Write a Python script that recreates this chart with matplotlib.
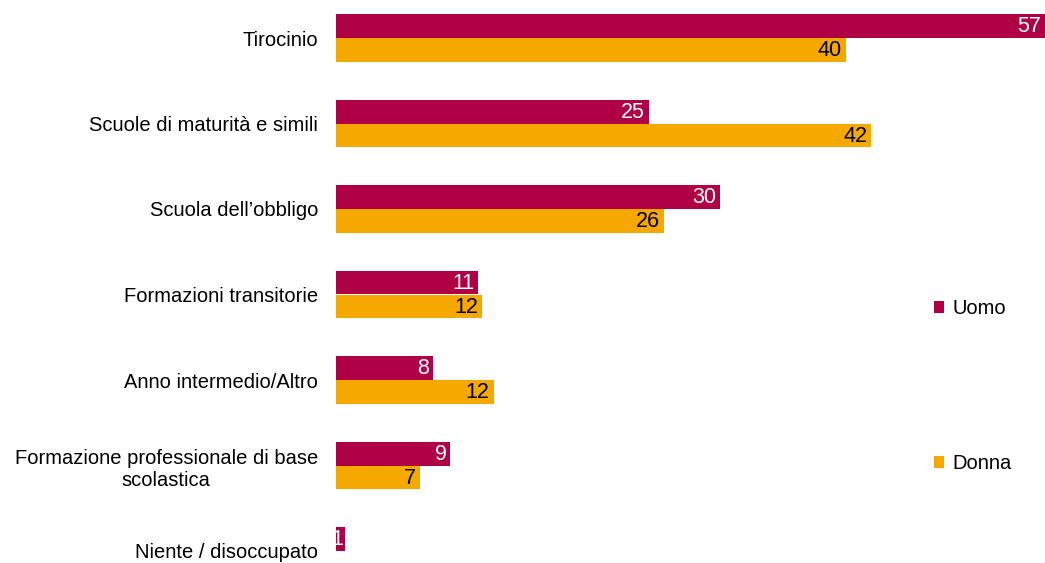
import numpy as np
import matplotlib.pyplot as plt

# Data
categories = ['Tirocinio', 'Scuole di maturità e simili', 'Scuola dell\u2019obbligo',
              'Formazioni transitorie', 'Anno intermedio/Altro',
              'Formazione professionale di base\nscolastica', 'Niente / disoccupato']
uomo = [57.3, 24.6, 30.2, 11.2, 7.6, 9.0, 0.7]
donna = [40.1, 42.1, 25.8, 11.5, 12.4, 6.6, 0.0]
series_names = ['Uomo', 'Donna']

col_uomo = '#AF0046'
col_donna = '#F5A800'

plt.rcParams['font.family'] = ['Liberation Sans', 'DejaVu Sans']
plt.rcParams['font.size'] = 14.5

fig = plt.figure(figsize=(10.45, 5.63), dpi=100)
ax = fig.add_axes([336 / 1045, 0, 1 - 336 / 1045, 1])

y = np.arange(len(categories))
h = 0.28
xmax = 55.8

b1 = ax.barh(y - h / 2, uomo, height=h, color=col_uomo, label=series_names[0])
b2 = ax.barh(y + h / 2, donna, height=h, color=col_donna, label=series_names[1])

# value labels, inside the bar end
for vals, ys, tc in [(uomo, y - h / 2, 'white'), (donna, y + h / 2, 'black')]:
    for v, yy in zip(vals, ys):
        if v <= 0:
            continue
        xe = max(min(v, xmax) - 0.3, 0.6)
        ax.text(xe, yy + 0.01, f'{v:.0f}', ha='right', va='center',
                color=tc, fontsize=15.5)

ax.set_xlim(0, xmax)
ax.set_ylim((563 - 38) / 85.5, -38 / 85.5)
ax.set_yticks(y)
ax.set_yticklabels(categories, multialignment='center')
ax.tick_params(axis='y', length=0, pad=13)
ax.set_xticks([])
for s in ax.spines.values():
    s.set_visible(False)

fig.legend(handles=[b1, b2], loc='upper left', bbox_to_anchor=(934 / 1045, 1 - 299 / 563),
           frameon=False, handlelength=0.5, handleheight=0.5, handletextpad=0.4,
           labelspacing=6.75, borderaxespad=0, borderpad=0)

fig.savefig('out.png', dpi=100)
